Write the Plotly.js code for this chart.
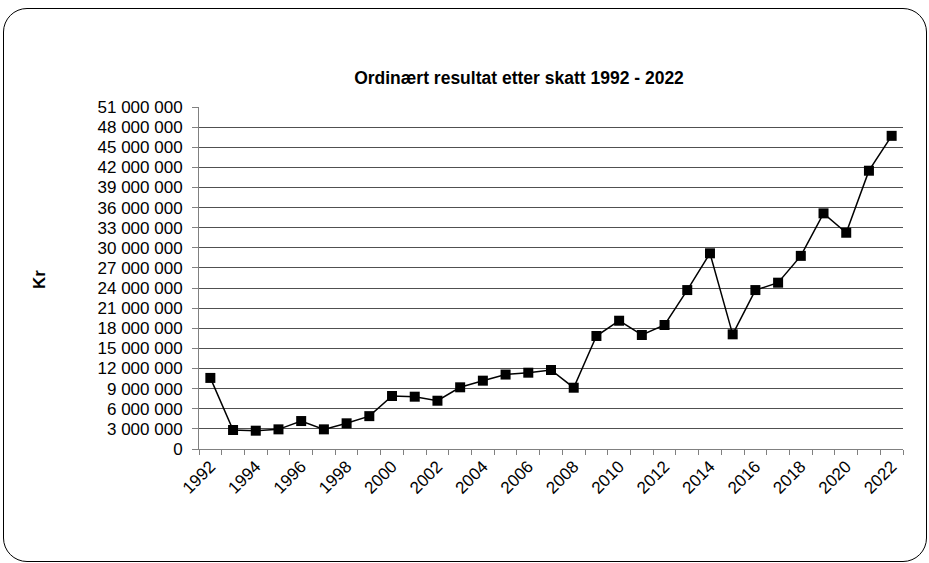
<!DOCTYPE html>
<html>
<head>
<meta charset="utf-8">
<script src="https://cdn.plot.ly/plotly-3.0.1.min.js"></script>
<style>
  html, body { margin: 0; padding: 0; background: #fff; }
  #wrap { position: relative; width: 929px; height: 563px; }
  #frame { position: absolute; left: 3px; top: 8px; width: 924px; height: 554px;
           border: 1px solid #000; border-radius: 24px; box-sizing: border-box; pointer-events: none; }
  #chart { position: absolute; left: 0; top: 0; width: 929px; height: 563px; }
</style>
</head>
<body>
<div id="wrap">
  <div id="chart"></div>
  <div id="frame"></div>
</div>
<script>
const years = ["1992","1993","1994","1995","1996","1997","1998","1999","2000","2001",
               "2002","2003","2004","2005","2006","2007","2008","2009","2010","2011",
               "2012","2013","2014","2015","2016","2017","2018","2019","2020","2021","2022"];
const resultat = [10600000, 2830000, 2730000, 2930000, 4170000, 2930000, 3830000, 4900000, 7900000, 7800000,
                  7200000, 9200000, 10190000, 11100000, 11380000, 11780000, 9140000, 16850000, 19130000, 17000000,
                  18490000, 23700000, 29180000, 17100000, 23700000, 24800000, 28800000, 35140000, 32250000, 41500000, 46700000];
const tickLabels = years.map((y, i) => (i % 2 === 0 ? y : ""));
const chartTitle = "Ordinært resultat etter skatt 1992 - 2022";
const yLabel = "Kr";

const trace = {
  x: years, y: resultat, type: "scatter", mode: "lines+markers",
  line: { color: "#000", width: 1.5 },
  marker: { symbol: "square", size: 10, color: "#000" },
  hoverinfo: "x+y"
};

const layout = {
  width: 929, height: 563,
  margin: { l: 199, r: 26, t: 107, b: 114 },
  paper_bgcolor: "rgba(0,0,0,0)", plot_bgcolor: "#fff",
  font: { family: "Liberation Sans, Arial, sans-serif", size: 17, color: "#000" },
  separators: ", ",
  showlegend: false,
  title: { text: "<b>" + chartTitle + "</b>", font: { size: 17.5, color: "#000" },
           x: 519 / 929, xref: "container", xanchor: "center",
           y: 1 - 78 / 563, yref: "container", yanchor: "middle" },
  xaxis: {
    type: "category", range: [-0.5, 30.5], autorange: false,
    tickmode: "array", tickvals: years, ticktext: tickLabels,
    tickson: "boundaries", ticks: "outside", ticklen: 5, tickcolor: "#808080",
    tickangle: -45, showgrid: false, showline: true, linecolor: "#808080", linewidth: 1,
    zeroline: false, tickfont: { size: 17 }
  },
  yaxis: {
    range: [0, 51000000], autorange: false, dtick: 3000000, tick0: 0, tickformat: ",d",
    ticks: "outside", ticklen: 6, tickcolor: "#808080", ticklabelstandoff: 6,
    showgrid: true, gridcolor: "#505050", gridwidth: 1,
    showline: true, linecolor: "#808080", linewidth: 1, zeroline: false,
    tickfont: { size: 17 }
  },
  annotations: [{
    text: "<b>" + yLabel + "</b>", xref: "paper", yref: "paper",
    x: (39 - 199) / 704, y: (449 - 280) / 342, showarrow: false, textangle: -90,
    font: { size: 17, color: "#000" }, xanchor: "center", yanchor: "middle"
  }]
};

Plotly.newPlot("chart", [trace], layout, { displayModeBar: false, staticPlot: true });
</script>
</body>
</html>
